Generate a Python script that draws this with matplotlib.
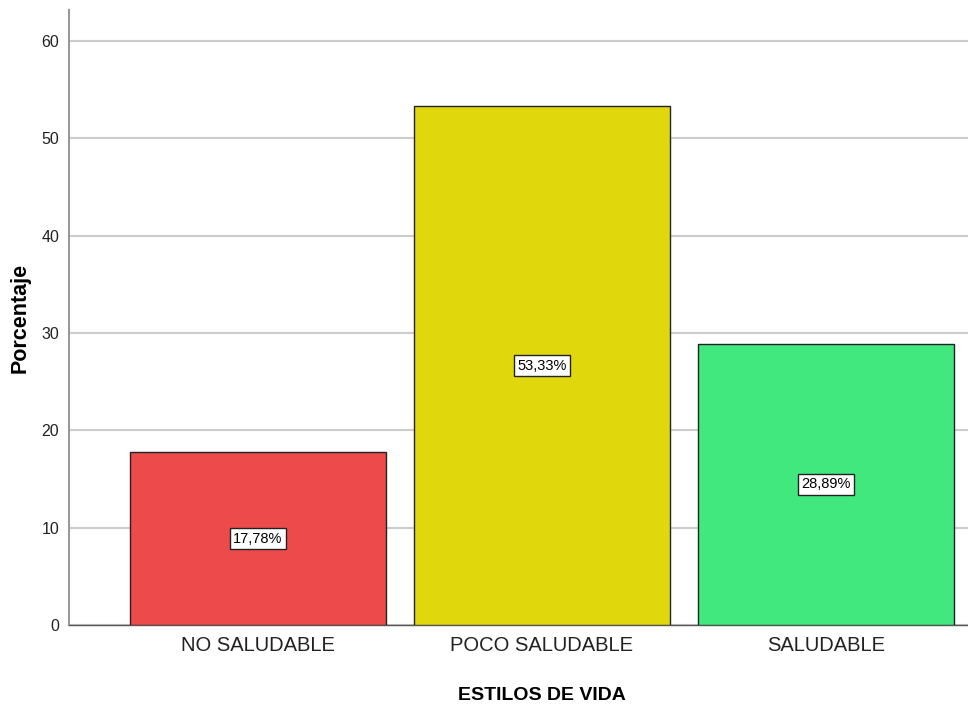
import matplotlib
matplotlib.use("Agg")
import matplotlib.pyplot as plt

categorias = ["NO SALUDABLE", "POCO SALUDABLE", "SALUDABLE"]
porcentajes = [17.78, 53.33, 28.89]
etiquetas = ["17,78%", "53,33%", "28,89%"]
colores = ["#EC4A4B", "#E1D70D", "#40E87E"]

plt.rcParams['font.family'] = ['Liberation Sans Narrow', 'Liberation Sans', 'DejaVu Sans']

fig = plt.figure(figsize=(9.68, 7.13), dpi=100)
ax = fig.add_axes([0.0713, 0.1234, 0.9287, 0.8626])

x = list(range(len(categorias)))
bars = ax.bar(x, porcentajes, width=0.9, color=colores, edgecolor="#222222", linewidth=1, zorder=3)
for xi, v, t in zip(x, porcentajes, etiquetas):
    ax.text(xi, v / 2, t, ha="center", va="center", fontsize=10.5, zorder=4,
            bbox=dict(boxstyle="square,pad=0.25", facecolor="white", edgecolor="#222222", linewidth=1))

ax.set_xlim(-0.665, 2.5)
ax.set_ylim(0, 63.2)
ax.set_yticks([0, 10, 20, 30, 40, 50, 60])
ax.yaxis.grid(True, color="#cccccc", linewidth=1.5, zorder=0)
ax.tick_params(axis="both", length=0)
ax.tick_params(axis="y", labelsize=11.5, colors="#222222", pad=7)
ax.tick_params(axis="x", labelsize=14.5, colors="#222222", pad=8)
ax.set_xticks(x)
ax.set_xticklabels(categorias)

for s in ["top", "right"]:
    ax.spines[s].set_visible(False)
ax.spines["left"].set_color("#999999")
ax.spines["left"].set_linewidth(1.5)
ax.spines["bottom"].set_color("#555555")
ax.spines["bottom"].set_linewidth(1)

ax.set_ylabel("Porcentaje", fontsize=15.5, fontweight="bold")
ax.yaxis.set_label_coords(-0.043, 0.5)
ax.set_xlabel("ESTILOS DE VIDA", fontsize=14, fontweight="bold")
ax.xaxis.set_label_coords((1 + 0.665) / 3.165, -0.1)

fig.savefig("out.png", dpi=100)
